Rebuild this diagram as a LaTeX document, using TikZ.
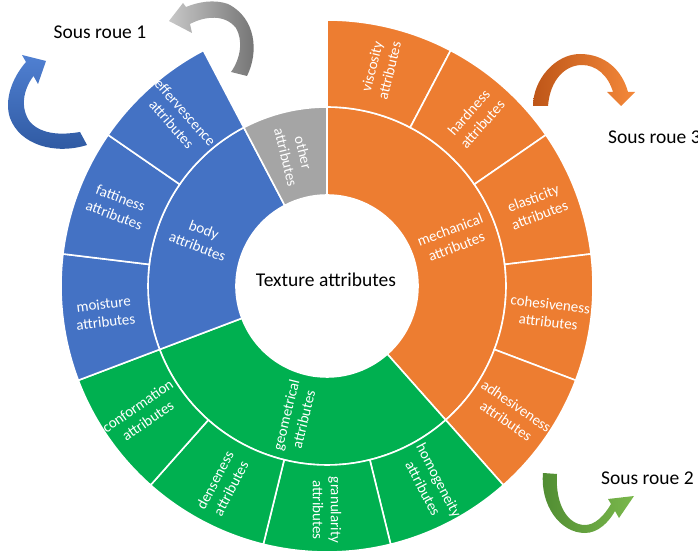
\documentclass[tikz,border=0pt]{standalone}
\usepackage{fontspec}
\setmainfont{Carlito}
\definecolor{worange}{HTML}{ED7D31}
\definecolor{wblue}{HTML}{4472C4}
\definecolor{wgreen}{HTML}{00B050}
\definecolor{wgrey}{HTML}{A5A5A5}
\newcommand\wseg[5]{\fill[#1, draw=white, line width=1.6pt] (#2:#4) arc[start angle=#2, end angle=#3, radius=#4] -- (#3:#5) arc[start angle=#3, end angle=#2, radius=#5] -- cycle;}
\begin{document}
\begin{tikzpicture}[x=1pt,y=1pt,
  lab/.style={text=white, align=center, font=\fontsize{15}{18}\selectfont, inner sep=0pt},
  sous/.style={text=black, font=\fontsize{19.5}{22}\selectfont, inner sep=0pt}]
\useasboundingbox (0,0) rectangle (698,554);
\begin{scope}[shift={(327,268)}]
% inner ring
\wseg{worange}{90}{-48.4615}{91}{179}
\wseg{wgreen}{-48.4615}{-159.2308}{91}{179}
\wseg{wblue}{-159.2308}{-242.3077}{91}{179}
\wseg{wgrey}{-242.3077}{-270}{91}{179}
% outer ring
\wseg{worange}{90}{62.3077}{179}{266}
\wseg{worange}{62.3077}{34.6154}{179}{266}
\wseg{worange}{34.6154}{6.9231}{179}{266}
\wseg{worange}{6.9231}{-20.7692}{179}{266}
\wseg{worange}{-20.7692}{-48.4615}{179}{266}
\wseg{wgreen}{-48.4615}{-76.1538}{179}{266}
\wseg{wgreen}{-76.1538}{-103.8462}{179}{266}
\wseg{wgreen}{-103.8462}{-131.5385}{179}{266}
\wseg{wgreen}{-131.5385}{-159.2308}{179}{266}
\wseg{wblue}{-159.2308}{-186.9231}{179}{266}
\wseg{wblue}{-186.9231}{-214.6154}{179}{266}
\wseg{wblue}{-214.6154}{-242.3077}{179}{266}
% outer labels
\node[lab, rotate=76.15] (visc) at (76.15:224) {viscosity\\attributes};
\node[lab, rotate=48.46] (hard) at (48.46:224) {hardness\\attributes};
\node[lab, rotate=20.77] (elas) at (20.77:224) {elasticity\\attributes};
\node[lab, rotate=-6.92] (cohe) at (-6.92:224) {cohesiveness\\attributes};
\node[lab, rotate=-34.62] (adhe) at (-34.62:224) {adhesiveness\\attributes};
\node[lab, rotate=-62.31] (homo) at (-62.31:224) {homogeneity\\attributes};
\node[lab, rotate=-90] (gran) at (-90:224) {granularity\\attributes};
\node[lab, rotate=62.31] (dens) at (-117.69:224) {denseness\\attributes};
\node[lab, rotate=34.62] (conf) at (-145.38:224) {conformation\\attributes};
\node[lab, rotate=6.92] (mois) at (-173.08:224) {moisture\\attributes};
\node[lab, rotate=-20.77] (fatt) at (-200.77:224) {fattiness\\attributes};
\node[lab, rotate=-48.46] (effe) at (-228.46:224) {effervescence\\attributes};
% inner labels
\node[lab, rotate=20.77] (mech) at (20.77:135) {mechanical\\attributes};
\node[lab, rotate=76.15] (geom) at (-103.85:135) {geometrical\\attributes};
\node[lab, rotate=-20.77] (body) at (-200.77:135) {body\\attributes};
\node[lab, rotate=-76.15] (othe) at (-256.15:135) {other\\attributes};
\node[sous] (tex) at (-1,6) {Texture attributes};
\end{scope}
% texts
\node[sous] (s1) at (100,522) {Sous roue 1};
\node[sous, anchor=west] (s3) at (608,417) {Sous roue 3};
\node[sous, anchor=west] (s2) at (601,76) {Sous roue 2};
% curved arrows (screen coordinates)
\begin{scope}[shift={(0,554)}, yscale=-1]
\shade[left color={rgb,255:red,200;green,200;blue,200}, right color={rgb,255:red,112;green,112;blue,112}]
 (247,76) .. controls (259,52) and (256,18) .. (228,4) .. controls (214,-1) and (198,2) .. (186,7) -- (183,3) -- (169,21) -- (192,33) -- (190,24) .. controls (205,16) and (225,14) .. (236,28) .. controls (243,40) and (241,58) .. (231,72) -- cycle;
\shade[top color={rgb,255:red,80;green,128;blue,210}, bottom color={rgb,255:red,46;green,88;blue,160}]
 (87,145) .. controls (55,155) and (20,145) .. (10,118) .. controls (4,100) and (12,78) .. (26,62) -- (22,55) -- (46,61) -- (38,84) -- (33.5,76) .. controls (23,90) and (20,108) .. (30,122) .. controls (42,135) and (62,135) .. (80,132) -- cycle;
\shade[left color={rgb,255:red,190;green,86;blue,24}, right color={rgb,255:red,244;green,136;blue,58}]
 (533,106) .. controls (533,80) and (555,54) .. (580,54) .. controls (605,54) and (622,70) .. (628,92) -- (635,92) -- (621,106) -- (607,92) -- (613,92) .. controls (608,75) and (596,65) .. (582,65) .. controls (565,65) and (550,80) .. (548,106) -- cycle;
\shade[left color={rgb,255:red,80;green,140;blue,50}, right color={rgb,255:red,122;green,184;blue,76}]
 (543,473) .. controls (540,505) and (560,533) .. (585,533) .. controls (598,533) and (609,522) .. (615,511) -- (619,518) -- (634,496) -- (608,499) -- (611,504) .. controls (604,516) and (595,525) .. (585,525) .. controls (568,525) and (555,505) .. (557,474) -- cycle;
\end{scope}
\end{tikzpicture}
\end{document}
